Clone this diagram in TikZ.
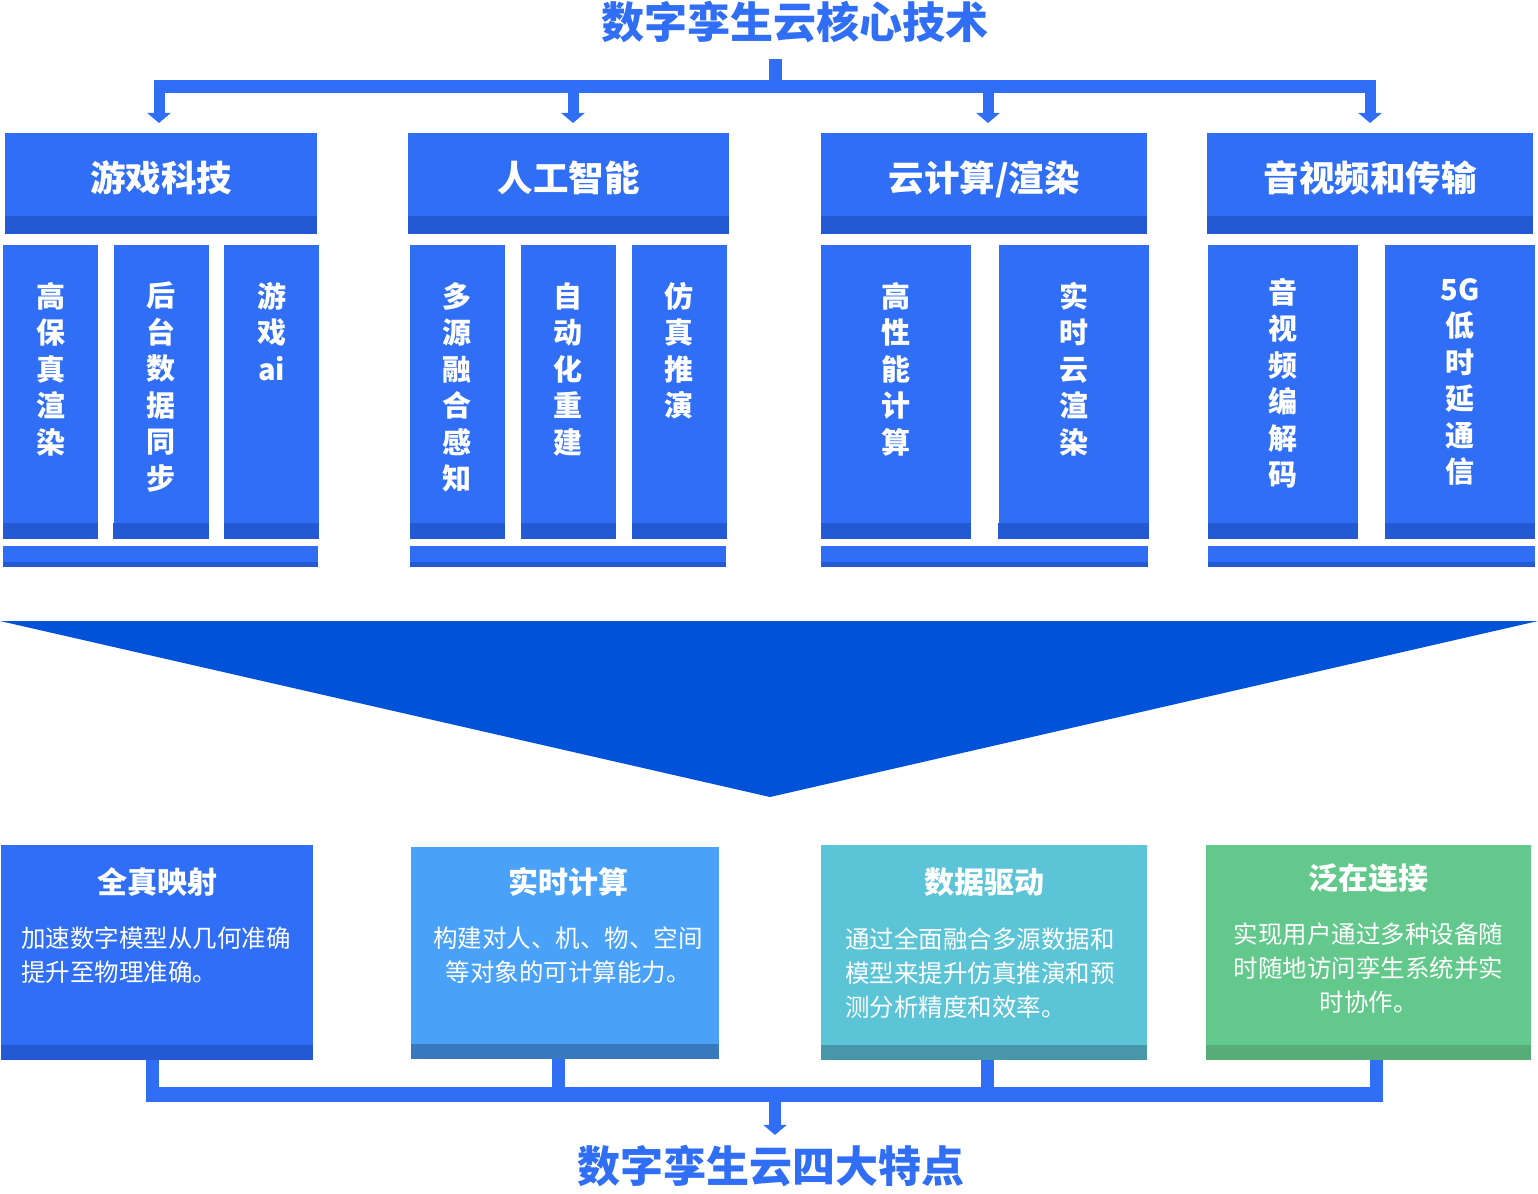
\documentclass[tikz,border=0pt]{standalone}
\usepackage{fontspec}
\setmainfont{Noto Sans CJK SC}
\usepackage{tikz}
\usetikzlibrary{positioning, arrows.meta, calc}

\definecolor{mainblue}{RGB}{48,110,245}
\definecolor{darkblue}{RGB}{36,89,212}
\definecolor{funnelblue}{RGB}{0,83,216}
\definecolor{skyblue}{RGB}{74,162,248}
\definecolor{skydark}{RGB}{56,121,189}
\definecolor{tealbox}{RGB}{91,196,214}
\definecolor{tealdark}{RGB}{71,151,168}
\definecolor{greenbox}{RGB}{98,200,139}
\definecolor{greendark}{RGB}{86,173,120}

\begin{document}
\begin{tikzpicture}[
    x=1pt, y=-1pt,
    title/.style={text=mainblue, inner sep=0, font=\bfseries\fontsize{43}{48}\selectfont},
    hdr/.style={fill=mainblue, text=white, inner sep=0, minimum height=83pt, anchor=north west,
        text height=33pt, text depth=0pt, font=\bfseries\fontsize{35.5}{40}\selectfont},
    sub/.style={fill=mainblue, inner sep=0, minimum width=95pt, minimum height=278pt, anchor=north west},
    vtxt/.style={text=white, inner sep=0, anchor=north, align=center, font=\bfseries\fontsize{29}{36.5}\selectfont},
    shelf/.style={fill=mainblue, inner sep=0, minimum height=16pt, anchor=north west},
    feat/.style={inner sep=0, minimum height=200pt, anchor=north west},
    ftitle/.style={text=white, inner sep=0, font=\bfseries\fontsize{30}{36}\selectfont},
    ftxt/.style={text=white, inner sep=0, anchor=north, font=\fontsize{24.5}{34}\selectfont},
    bus/.style={draw=mainblue, line width=13pt},
    stem/.style={draw=mainblue, line width=11pt, -{Triangle[width=23pt,length=10pt]}}
]
\useasboundingbox (0,0) rectangle (1538,1193);

% Titles
\node[title] (ttop) at (795,22) {数字孪生云核心技术};
\node[title] (tbot) at (771,1166) {数字孪生云四大特点};

% Header boxes
\node[hdr, minimum width=312pt] (h1) at (5,133) {游戏科技};
\node[hdr, minimum width=321pt] (h2) at (408,133) {人工智能};
\node[hdr, minimum width=326pt] (h3) at (821,133) {云计算/渲染};
\node[hdr, minimum width=326pt] (h4) at (1207,133) {音视频和传输};
\foreach \n in {h1,h2,h3,h4}
    \fill[darkblue] (\n.south west) rectangle ([yshift=-18pt]\n.south east);

% Top connector
\coordinate (tbus) at (775,86.5);
\coordinate (a1) at (159,86.5);
\coordinate (a2) at (573,86.5);
\coordinate (a3) at (988,86.5);
\coordinate (a4) at (1370,86.5);
\draw[bus] (ttop.south -| tbus) ++(0,16) -- (tbus);
\draw[bus] ([xshift=-5.5pt]a1) -- ([xshift=5.5pt]a4);
\foreach \a/\h in {a1/h1,a2/h2,a3/h3,a4/h4}
    \draw[stem] (\a) -- ($(\a |- \h.north)+(0,-10)$);

% Sub boxes
\node[sub] (g1a) at (3,245) {};
\node[sub, right=15pt of g1a] (g1b) {};
\node[sub, right=15pt of g1b] (g1c) {};
\node[sub, minimum width=94.5pt] (g2a) at (410,245) {};
\node[sub, minimum width=94.5pt, right=16pt of g2a] (g2b) {};
\node[sub, minimum width=94.5pt, right=16pt of g2b] (g2c) {};
\node[sub, minimum width=150pt] (g3a) at (821,245) {};
\node[sub, minimum width=150pt, right=27pt of g3a] (g3b) {};
\node[sub, minimum width=150pt] (g4a) at (1208,245) {};
\node[sub, minimum width=150pt, right=26.5pt of g4a] (g4b) {};
\foreach \n in {g1a,g1b,g1c,g2a,g2b,g2c,g3a,g3b,g4a,g4b}
    \fill[darkblue] (\n.south west) rectangle ([yshift=-16pt]\n.south east);

\node[vtxt] at ([yshift=-37pt]g1a.north) {高\\保\\真\\渲\\染};
\node[vtxt] at ([yshift=-37pt]g1b.north) {后\\台\\数\\据\\同\\步};
\node[vtxt] at ([yshift=-37pt]g1c.north) {游\\戏\\ai};
\node[vtxt] at ([yshift=-37pt]g2a.north) {多\\源\\融\\合\\感\\知};
\node[vtxt] at ([yshift=-37pt]g2b.north) {自\\动\\化\\重\\建};
\node[vtxt] at ([yshift=-37pt]g2c.north) {仿\\真\\推\\演};
\node[vtxt] at ([yshift=-37pt]g3a.north) {高\\性\\能\\计\\算};
\node[vtxt] at ([yshift=-37pt]g3b.north) {实\\时\\云\\渲\\染};
\node[vtxt] at ([yshift=-33pt]g4a.north) {音\\视\\频\\编\\解\\码};
\node[vtxt] at ([yshift=-33pt]g4b.north) {5G\\低\\时\\延\\通\\信};

% Shelves under sub boxes
\node[shelf, minimum width=315pt] (r1) at (3,546) {};
\node[shelf, minimum width=315.5pt] (r2) at (410,546) {};
\node[shelf, minimum width=327pt] (r3) at (821,546) {};
\node[shelf, minimum width=326.5pt] (r4) at (1208,546) {};
\foreach \n in {r1,r2,r3,r4}
    \fill[darkblue] (\n.south west) rectangle ([yshift=-5pt]\n.south east);

% Funnel
\fill[funnelblue] (0,621) -- (1538,621) -- (770,797) -- cycle;

% Feature boxes
\node[feat, fill=mainblue, minimum width=312pt] (b1) at (1,845) {};
\node[feat, fill=skyblue, minimum width=308pt, minimum height=197pt] (b2) at (411,847) {};
\node[feat, fill=tealbox, minimum width=326pt] (b3) at (821,845) {};
\node[feat, fill=greenbox, minimum width=325pt] (b4) at (1206,845) {};
\foreach \n/\c in {b1/darkblue,b2/skydark,b3/tealdark,b4/greendark}
    \fill[\c] (\n.south west) rectangle ([yshift=-15pt]\n.south east);

\node[ftitle] at ([yshift=-37pt]b1.north) {全真映射};
\node[ftitle] at ([xshift=3pt,yshift=-35pt]b2.north) {实时计算};
\node[ftitle] at ([yshift=-37pt]b3.north) {数据驱动};
\node[ftitle] at ([yshift=-33pt]b4.north) {泛在连接};

\node[ftxt, anchor=north west, align=left] at ([xshift=20pt,yshift=-82pt]b1.north west)
    {加速数字模型从几何准确\\提升至物理准确。};
\node[ftxt, align=center] at ([xshift=3pt,yshift=-80pt]b2.north)
    {构建对人、机、物、空间\\等对象的可计算能力。};
\node[ftxt, anchor=north west, align=left] at ([xshift=24pt,yshift=-82pt]b3.north west)
    {通过全面融合多源数据和\\模型来提升仿真推演和预\\测分析精度和效率。};
\node[ftxt, align=center] at ([yshift=-78pt]b4.north)
    {实现用户通过多种设备随\\时随地访问孪生系统并实\\时协作。};

% Bottom connector
\coordinate (c1) at (152.5,1094.5);
\coordinate (c2) at (558.5,1094.5);
\coordinate (c3) at (987,1094.5);
\coordinate (c4) at (1376.5,1094.5);
\coordinate (cm) at (775,1094.5);
\foreach \c/\b in {c1/b1,c2/b2,c3/b3,c4/b4}
    \draw[bus] ($(\c |- \b.south)+(0,15)$) -- (\c);
\draw[bus, line width=15pt] ([xshift=-6.5pt]c1) -- ([xshift=6.5pt]c4);
\draw[stem, line width=12pt] (cm) -- ($(cm |- tbot.north)+(0,-10)$);

\end{tikzpicture}
\end{document}
